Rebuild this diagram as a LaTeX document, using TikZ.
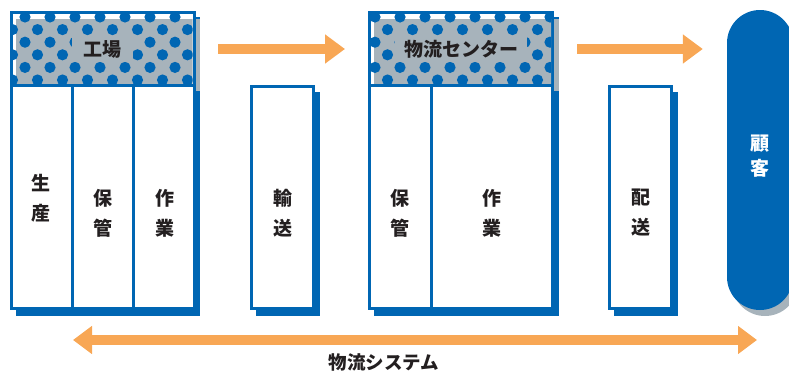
\documentclass[tikz,border=0pt]{standalone}
\usepackage{fontspec}
\newfontfamily\jp{Noto Sans CJK JP}
\usepackage{xcolor}
\usepackage{tikz}
\usetikzlibrary{positioning,arrows.meta}

\definecolor{boxblue}{RGB}{0,102,179}
\definecolor{boxgray}{RGB}{167,179,187}
\definecolor{flow}{RGB}{248,167,85}
\definecolor{ink}{RGB}{35,31,32}

\tikzset{
  panel/.style={draw=boxblue,line width=3pt,fill=white,inner sep=0pt},
  divider/.style={draw=boxblue,line width=3pt},
  tag/.style={fill=boxgray,inner sep=0pt,minimum height=26,font=\jp\bfseries\fontsize{19}{19}\selectfont,text=ink},
  word/.style={font=\jp\bfseries\fontsize{19}{30}\selectfont,align=center,text=ink,inner sep=0pt},
  flowarrow/.style={draw=flow,line width=10pt,-{Triangle[length=20pt,width=28pt]}},
  pill/.style={rounded corners=33,minimum width=66,minimum height=300,inner sep=0pt}
}

\begin{document}
\begin{tikzpicture}[x=1pt,y=-1pt]
  \useasboundingbox (0,0) rectangle (789,370);
  % shadows
  \fill[boxblue] (16,17) rectangle (200,316);
  \fill[boxgray] (16,19) rectangle (200,91);
  \fill[boxblue] (256,92) rectangle (320,316);
  \fill[boxblue] (374,17) rectangle (559,316);
  \fill[boxgray] (374,19) rectangle (559,91);
  \fill[boxblue] (614,92) rectangle (678,316);
  \node[pill,fill=boxgray] (custshadow) at (765,166) {};

  % boxes
  \node[panel,minimum width=182.5,minimum height=296] (factory) at (102.75,160.5) {};
  \node[panel,minimum width=62,minimum height=222] (transport) at (282.5,197.5) {};
  \node[panel,minimum width=183,minimum height=296] (center) at (461,160.5) {};
  \node[panel,minimum width=62,minimum height=222] (delivery) at (640.5,197.5) {};
  \node[pill,fill=boxblue] (customer) at (760,160) {};

  % dotted headers
  \begin{scope}
    \clip (13,14) rectangle (192.5,85);
    \fill[boxgray] (16,19) rectangle (200,91);
    \foreach \r [evaluate=\r as \off using {mod(\r,2)*12.5}] in {0,...,5}
      \foreach \c in {0,...,8}
        \fill[boxblue] ({25*\c+\off},{17+12.6*\r}) circle (5.6);
  \end{scope}
  \begin{scope}
    \clip (371,14) rectangle (551,85);
    \fill[boxgray] (374,19) rectangle (559,91);
    \foreach \r [evaluate=\r as \off using {mod(\r,2)*12.5}] in {0,...,5}
      \foreach \c in {14,...,22}
        \fill[boxblue] ({25*\c+\off},{17+12.6*\r}) circle (5.6);
  \end{scope}

  % dividers
  \draw[divider] (factory.west |- 0,85.5) -- (factory.east |- 0,85.5);
  \draw[divider] (72,85.5) -- (72,0 |- factory.south);
  \draw[divider] (133.5,85.5) -- (133.5,0 |- factory.south);
  \draw[divider] (center.west |- 0,85.5) -- (center.east |- 0,85.5);
  \draw[divider] (431,85.5) -- (431,0 |- center.south);

  % labels
  \node[tag,minimum width=61] (facname) at (102.5,49) {工場};
  \node[tag,minimum width=132] (centername) at (461,49) {物流センター};
  \node[word] (produce) at (41,198) {生\\産};
  \node[word] (fstore) at (103,213) {保\\管};
  \node[word] (fwork) at (165,213) {作\\業};
  \node[word] (ship) at (283,213) {輸\\送};
  \node[word] (cstore) at (400,213) {保\\管};
  \node[word] (cwork) at (492,213) {作\\業};
  \node[word] (deliver) at (641,213) {配\\送};
  \node[word,text=white,font=\jp\bfseries\fontsize{19}{25}\selectfont] (custname) at (760,156) {顧\\客};
  \node[font=\jp\bfseries\fontsize{18.5}{18.5}\selectfont,text=ink,inner sep=0pt] (system) at (384,362) {物流システム};

  % flows
  \coordinate (sysL) at (73,340);
  \coordinate (sysR) at (757,340);
  \draw[flowarrow,shorten <=22.5pt,shorten >=23pt] (factory.east |- facname) -- (center.west |- facname);
  \draw[flowarrow,shorten <=23pt,shorten >=24pt] (center.east |- centername) -- (customer.west |- centername);
  \draw[flowarrow,line width=9.5pt,{Triangle[length=19pt,width=27pt]}-{Triangle[length=19pt,width=27pt]}] (sysL) -- (sysR);
\end{tikzpicture}
\end{document}
